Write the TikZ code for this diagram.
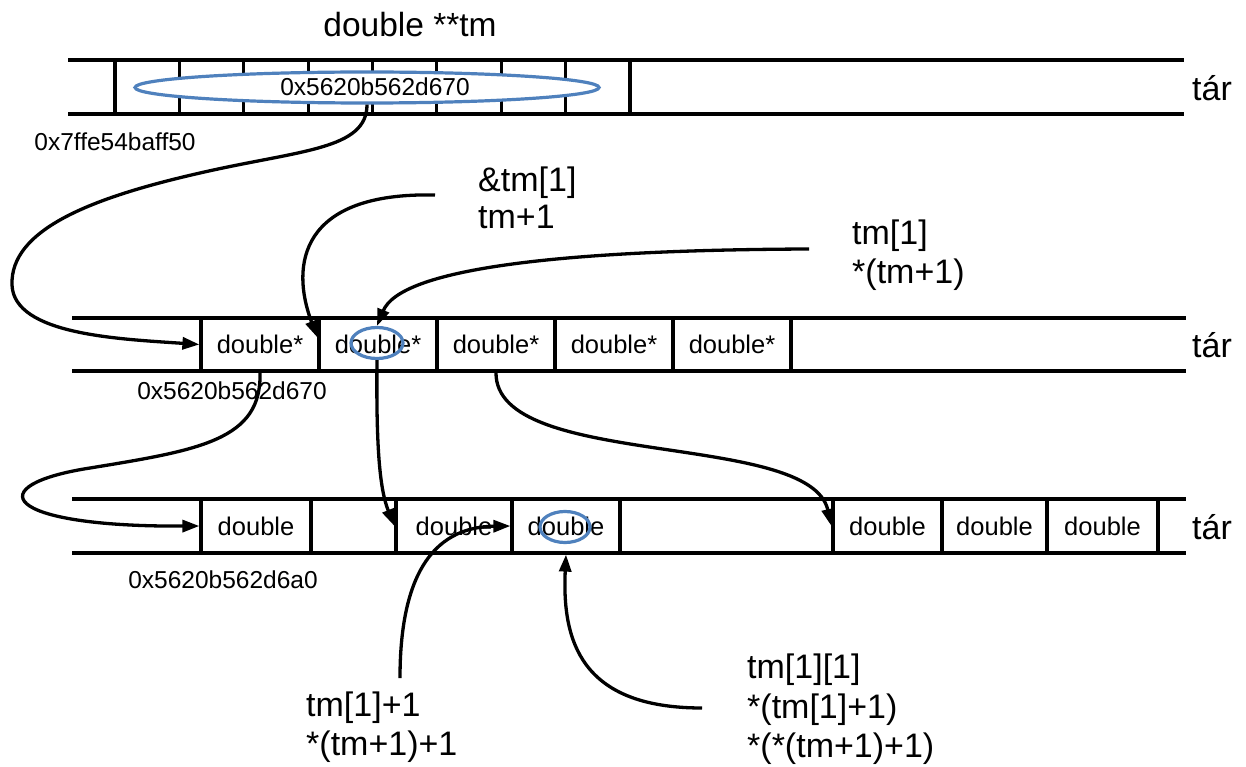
\documentclass[tikz,border=0pt]{standalone}
\usepackage{fontspec}
\setmainfont{Liberation Sans}
\usetikzlibrary{arrows.meta,shapes.geometric,calc}
\definecolor{ovalblue}{RGB}{79,129,189}
\begin{document}
\begin{tikzpicture}[x=1pt,y=-1pt,
  big/.style={font=\fontsize{34}{40}\selectfont, inner sep=0pt},
  title/.style={font=\fontsize{33.5}{40}\selectfont, inner sep=0pt},
  hex/.style={font=\fontsize{24.5}{29}\selectfont, inner sep=0pt},
  celltext/.style={font=\fontsize{25.5}{30}\selectfont},
  cell/.style={draw, line width=3.2pt, inner sep=0pt, celltext},
  strip/.style={line width=4.5pt},
  oval/.style={draw=ovalblue, line width=3.2pt, ellipse, inner sep=0pt},
  conn/.style={line width=3.3pt, -{Triangle[length=17pt,width=12pt]}}]
\useasboundingbox[fill=white] (0,0) rectangle (1246,767);

% title
\node[title] (title) at (410,25) {double **tm};

% ---------- top strip ----------
\foreach \i in {1,...,8}{
  \node[cell, minimum width=64.375pt, minimum height=54pt] (t\i) at ({115+64.375*(\i-0.5)},87) {};
}
\draw[strip] (68,60) -- (1184,60);
\draw[strip] (68,114) -- (1184,114);
\node[oval, fill=white, minimum width=464pt, minimum height=31pt] (e0) at (367,87.5) {};
\node[hex] (v0) at (375,87) {0x5620b562d670};
\node[hex] (a0) at (115,142) {0x7ffe54baff50};
\node[big] (tar0) at (1212,88) {tár};

% ---------- middle strip ----------
\foreach \i in {1,...,5}{
  \node[cell, minimum width=118pt, minimum height=53pt] (m\i) at ({201+118*(\i-0.5)},344.5) {double*};
}
\draw[strip] (72,318) -- (1186,318);
\draw[strip] (72,371) -- (1186,371);
\node[oval, minimum width=52pt, minimum height=31pt] (e1) at (377,343) {};
\node[hex] (a1) at (232,391) {0x5620b562d670};
\node[big] (tar1) at (1212,345) {tár};

% ---------- bottom strip ----------
\node[cell, minimum width=110pt, minimum height=54pt] (b1) at (256,526) {double};
\node[cell, minimum width=85pt, minimum height=54pt] (b2) at (353.5,526) {};
\node[cell, minimum width=116pt, minimum height=54pt] (b3) at (454,526) {double};
\node[cell, minimum width=108pt, minimum height=54pt] (b4) at (566,526) {double};
\node[cell, minimum width=213pt, minimum height=54pt] (b5) at (726.5,526) {};
\node[cell, minimum width=109pt, minimum height=54pt] (b6) at (887.5,526) {double};
\node[cell, minimum width=105pt, minimum height=54pt] (b7) at (994.5,526) {double};
\node[cell, minimum width=111pt, minimum height=54pt] (b8) at (1102.5,526) {double};
\draw[strip] (72,499) -- (1186,499);
\draw[strip] (72,553) -- (1186,553);
\node[oval, minimum width=50pt, minimum height=31pt] (e2) at (565,527) {};
\node[hex] (a2) at (223,580) {0x5620b562d6a0};
\node[big] (tar2) at (1212,527) {tár};

% ---------- labels ----------
\node[big, anchor=base west] (l1a) at (478,192) {\&tm[1]};
\node[big, anchor=base west] (l1b) at (478,229) {tm+1};
\node[big, anchor=base west] (l2a) at (852,244) {tm[1]};
\node[big, anchor=base west] (l2b) at (852,283) {*(tm+1)};
\node[big, anchor=base west] (l3a) at (306,716) {tm[1]+1};
\node[big, anchor=base west] (l3b) at (306,755) {*(tm+1)+1};
\node[big, anchor=base west] (l4a) at (747,678) {tm[1][1]};
\node[big, anchor=base west] (l4b) at (747,718) {*(tm[1]+1)};
\node[big, anchor=base west] (l4c) at (747,757) {*(*(tm+1)+1)};

\coordinate (s2) at (435,195);
\coordinate (s3) at (809,249);
\coordinate (s7) at (400,678);
\coordinate (s8) at (702,708);
\coordinate (k1) at (200,173);
\coordinate (k2) at (12,285);
\coordinate (k4) at (90,468);

% ---------- connectors ----------
\draw[conn] (e0.south) .. controls (367,150) and (300,150) .. (k1)
  .. controls (90,198) and (10,230) .. (k2)
  .. controls (14,335) and (120,339) .. (m1.west);
\draw[conn] (s2) .. controls (300,192) and (290,265) .. ($(m2.west)+(0,-7)$);
\draw[conn] (s3) .. controls (550,250) and (400,270) .. (e1.north);
\draw[conn] (m1.south) .. controls (262,440) and (200,450) .. (k4)
  .. controls (-20,485) and (0,527) .. (b1.west);
\draw[conn] (e1.south) .. controls (376,450) and (380,490) .. (b3.west);
\draw[conn] (m3.south) .. controls (495,470) and (810,430) .. (b6.west);
\draw[conn] (s7) .. controls (400,580) and (430,527) .. (b4.west);
\draw[conn] (s8) .. controls (580,708) and (562,640) .. (b4.south);
\end{tikzpicture}
\end{document}
